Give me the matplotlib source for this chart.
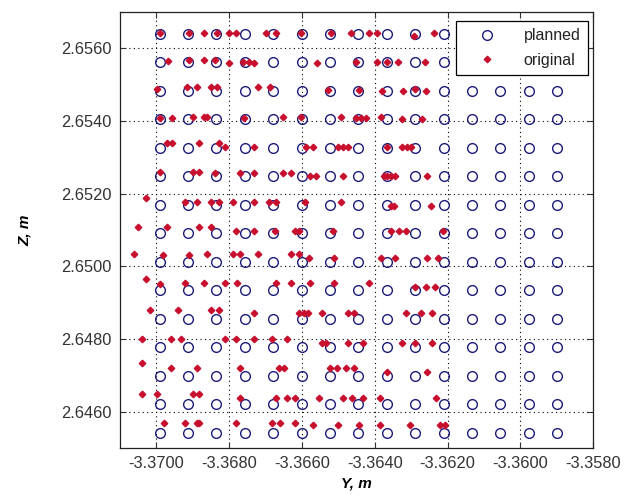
import matplotlib
matplotlib.use("Agg")
import matplotlib.pyplot as plt
import numpy as np

plt.rcParams["font.family"] = ["Liberation Sans", "DejaVu Sans"]
plt.rcParams["axes.unicode_minus"] = False

# planned grid (Y columns, Z rows)
planned_y = [-3.36991, -3.36913, -3.36835, -3.36757, -3.36679, -3.36601, -3.36523,
             -3.36445, -3.36367, -3.36289, -3.36211, -3.36133, -3.36055, -3.35977,
             -3.35899]
planned_z = [2.65640, 2.65562, 2.65483, 2.65405, 2.65326, 2.65248, 2.65169, 2.65091,
             2.65012, 2.64934, 2.64855, 2.64777, 2.64698, 2.64620, 2.64541]

# original points, read row by row from top to bottom
original_y = [
    # row 1
    -3.36990, -3.36911, -3.36870, -3.36832, -3.36800, -3.36781, -3.36700, -3.36672,
    -3.36602, -3.36520, -3.36465, -3.36417, -3.36395, -3.36292, -3.36238,
    # row 2
    -3.36968, -3.36911, -3.36870, -3.36838, -3.36800, -3.36761, -3.36745, -3.36731,
    -3.36559, -3.36451, -3.36395, -3.36365, -3.36336, -3.36262,
    # row 3
    -3.36999, -3.36917, -3.36888, -3.36849, -3.36832, -3.36720, -3.36688, -3.36528,
    -3.36442, -3.36379, -3.36322, -3.36288, -3.36259,
    # row 4
    -3.36990, -3.36958, -3.36899, -3.36870, -3.36861, -3.36758, -3.36652, -3.36602,
    -3.36492, -3.36451, -3.36438, -3.36424, -3.36383, -3.36324, -3.36270,
    # row 5
    -3.36970, -3.36958, -3.36882, -3.36829, -3.36811, -3.36732, -3.36588, -3.36570,
    -3.36502, -3.36488, -3.36474, -3.36365, -3.36324, -3.36311, -3.36301,
    # row 6
    -3.36990, -3.36900, -3.36882, -3.36838, -3.36770, -3.36732, -3.36653, -3.36631,
    -3.36579, -3.36561, -3.36488, -3.36374, -3.36365, -3.36356, -3.36344, -3.36256,
    # row 7
    -3.37029, -3.36920, -3.36888, -3.36849, -3.36829, -3.36790, -3.36732, -3.36690,
    -3.36670, -3.36591, -3.36492, -3.36356, -3.36347, -3.36245,
    # row 8
    -3.37049, -3.36970, -3.36882, -3.36849, -3.36781, -3.36732, -3.36674, -3.36620,
    -3.36609, -3.36515, -3.36356, -3.36333, -3.36313, -3.36213,
    # row 9
    -3.37061, -3.36981, -3.36911, -3.36861, -3.36790, -3.36770, -3.36720, -3.36629,
    -3.36609, -3.36581, -3.36513, -3.36383, -3.36344, -3.36256, -3.36226,
    # row 10
    -3.37027, -3.36990, -3.36920, -3.36870, -3.36811, -3.36779, -3.36670, -3.36629,
    -3.36579, -3.36513, -3.36415, -3.36288, -3.36260, -3.36235,
    # row 11
    -3.37017, -3.36941, -3.36849, -3.36829, -3.36732, -3.36609, -3.36595, -3.36582,
    -3.36544, -3.36474, -3.36456, -3.36313, -3.36274, -3.36242,
    # row 12
    -3.37040, -3.36959, -3.36931, -3.36811, -3.36781, -3.36731, -3.36682, -3.36640,
    -3.36544, -3.36533, -3.36474, -3.36433, -3.36324, -3.36288, -3.36242,
    # row 13
    -3.37040, -3.36959, -3.36888, -3.36770, -3.36663, -3.36650, -3.36524, -3.36504,
    -3.36479, -3.36456, -3.36365, -3.36256,
    # row 14
    -3.37040, -3.36999, -3.36899, -3.36882, -3.36770, -3.36672, -3.36640, -3.36618,
    -3.36552, -3.36488, -3.36463, -3.36433, -3.36386, -3.36233,
    # row 15
    -3.36979, -3.36920, -3.36888, -3.36882, -3.36781, -3.36682, -3.36661, -3.36618,
    -3.36570, -3.36502, -3.36442, -3.36386, -3.36304, -3.36222, -3.36206,
]
original_z = [
    # row 1
    2.65641, 2.65641, 2.65641, 2.65641, 2.65641, 2.65641, 2.65641, 2.65641,
    2.65641, 2.65641, 2.65641, 2.65641, 2.65641, 2.65635, 2.65641,
    # row 2
    2.65566, 2.65568, 2.65568, 2.65568, 2.65560, 2.65562, 2.65562, 2.65560,
    2.65560, 2.65562, 2.65562, 2.65562, 2.65562, 2.65562,
    # row 3
    2.65489, 2.65492, 2.65492, 2.65492, 2.65492, 2.65492, 2.65492, 2.65485,
    2.65484, 2.65482, 2.65482, 2.65489, 2.65482,
    # row 4
    2.65409, 2.65409, 2.65411, 2.65411, 2.65411, 2.65409, 2.65411, 2.65411,
    2.65411, 2.65409, 2.65409, 2.65409, 2.65411, 2.65405, 2.65405,
    # row 5
    2.65340, 2.65340, 2.65340, 2.65340, 2.65329, 2.65329, 2.65329, 2.65329,
    2.65329, 2.65329, 2.65329, 2.65329, 2.65329, 2.65329, 2.65329,
    # row 6
    2.65260, 2.65260, 2.65260, 2.65258, 2.65258, 2.65258, 2.65258, 2.65258,
    2.65249, 2.65249, 2.65249, 2.65249, 2.65249, 2.65249, 2.65249, 2.65249,
    # row 7
    2.65187, 2.65176, 2.65176, 2.65176, 2.65176, 2.65176, 2.65176, 2.65176,
    2.65176, 2.65176, 2.65178, 2.65167, 2.65167, 2.65167,
    # row 8
    2.65107, 2.65107, 2.65107, 2.65107, 2.65098, 2.65098, 2.65098, 2.65096,
    2.65096, 2.65098, 2.65098, 2.65098, 2.65098, 2.65098,
    # row 9
    2.65034, 2.65032, 2.65032, 2.65034, 2.65034, 2.65034, 2.65034, 2.65034,
    2.65034, 2.65023, 2.65023, 2.65023, 2.65023, 2.65023, 2.65023,
    # row 10
    2.64965, 2.64952, 2.64953, 2.64953, 2.64953, 2.64953, 2.64953, 2.64953,
    2.64953, 2.64953, 2.64953, 2.64942, 2.64942, 2.64942,
    # row 11
    2.64881, 2.64881, 2.64881, 2.64881, 2.64872, 2.64872, 2.64872, 2.64872,
    2.64872, 2.64872, 2.64872, 2.64872, 2.64872, 2.64872,
    # row 12
    2.64801, 2.64801, 2.64801, 2.64801, 2.64801, 2.64801, 2.64801, 2.64801,
    2.64790, 2.64790, 2.64790, 2.64790, 2.64790, 2.64790, 2.64790,
    # row 13
    2.64733, 2.64719, 2.64719, 2.64719, 2.64719, 2.64719, 2.64719, 2.64719,
    2.64719, 2.64719, 2.64708, 2.64708,
    # row 14
    2.64648, 2.64648, 2.64648, 2.64648, 2.64638, 2.64638, 2.64638, 2.64638,
    2.64638, 2.64638, 2.64638, 2.64638, 2.64638, 2.64638,
    # row 15
    2.64568, 2.64568, 2.64568, 2.64568, 2.64568, 2.64568, 2.64568, 2.64568,
    2.64562, 2.64562, 2.64562, 2.64562, 2.64562, 2.64562, 2.64562,
]

y_ticks = [-3.3700, -3.3680, -3.3660, -3.3640, -3.3620, -3.3600, -3.3580]
z_ticks = [2.6460, 2.6480, 2.6500, 2.6520, 2.6540, 2.6560]

fig = plt.figure(figsize=(6.31, 4.95), dpi=100)
ax = fig.add_axes([0.190, 0.095, 0.750, 0.881])

gy, gz = np.meshgrid(planned_y, planned_z)
ax.plot(gy.ravel(), gz.ravel(), "o", markersize=7, markerfacecolor="none",
        markeredgecolor="#1c1c7a", markeredgewidth=1.0, linestyle="none",
        label="planned")
ax.plot(original_y, original_z, "D", markersize=3.3, color="#c8102e",
        linestyle="none", label="original")

ax.set_xlim(-3.3710, -3.3580)
ax.set_ylim(2.6450, 2.6570)
ax.set_xticks(y_ticks)
ax.set_yticks(z_ticks)
ax.set_xticklabels([f"{v:.4f}" for v in y_ticks])
ax.set_yticklabels([f"{v:.4f}" for v in z_ticks])
ax.tick_params(direction="in", length=4, width=0.8, top=True, right=True,
               labelsize=11.8, colors="#333333", pad=6)
ax.grid(True, linestyle=(0, (1, 3)), color="black", linewidth=0.8)
for s in ax.spines.values():
    s.set_linewidth(0.9)
    s.set_color("#222222")

ax.set_xlabel("Y, m", fontsize=11, fontweight="bold", fontstyle="italic")
ax.set_ylabel("Z, m", fontsize=11, fontweight="bold", fontstyle="italic")
ax.xaxis.set_label_coords(0.5, -0.066)
ax.yaxis.set_label_coords(-0.186, 0.5)

leg = ax.legend(loc="upper right", bbox_to_anchor=(0.989, 0.979), borderaxespad=0,
                fancybox=False, edgecolor="black", framealpha=1, fontsize=11.5,
                handlelength=3.0, handletextpad=0.8, borderpad=0.45,
                labelspacing=0.6)
leg.get_frame().set_linewidth(0.9)
for t in leg.get_texts():
    t.set_color("#222222")

fig.savefig("out.png", dpi=100)
